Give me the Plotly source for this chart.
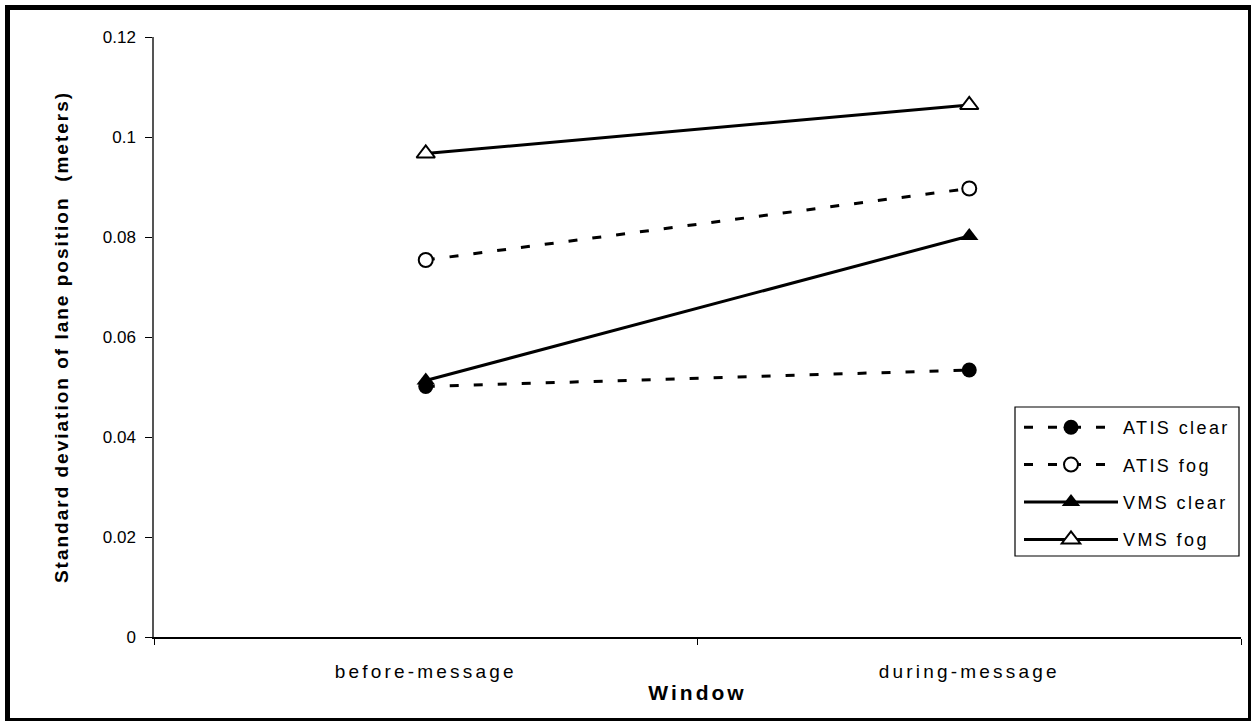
import plotly.graph_objects as go

categories = ["before-message", "during-message"]
atis_clear = [0.0501, 0.0534]
atis_fog = [0.0754, 0.0897]
vms_clear = [0.0513, 0.0802]
vms_fog = [0.0967, 0.1064]
y_ticks = [0, 0.02, 0.04, 0.06, 0.08, 0.1, 0.12]

W, H = 1251, 721
ML, MR, MT, MB = 154, 10, 37, 84
PW, PH = W - ML - MR, H - MT - MB

def px(x):
    return (x - ML) / PW

def py(y):
    return (H - MB - y) / PH

fig = go.Figure()
dash = "9px,15px"
fig.add_trace(go.Scatter(x=categories, y=atis_clear, name="ATIS clear", mode="lines+markers",
                         line=dict(color="black", width=3, dash=dash),
                         marker=dict(symbol="circle", size=15, color="black"),
                         legendgroup="a"))
fig.add_trace(go.Scatter(x=categories, y=atis_fog, name="ATIS fog", mode="lines+markers",
                         line=dict(color="black", width=3, dash=dash),
                         marker=dict(symbol="circle", size=14, color="white",
                                     line=dict(color="black", width=2)),
                         legendgroup="b"))
fig.add_trace(go.Scatter(x=categories, y=vms_clear, name="VMS clear", mode="lines+markers",
                         line=dict(color="black", width=3),
                         marker=dict(symbol="triangle-up", size=16, color="black"),
                         legendgroup="c"))
fig.add_trace(go.Scatter(x=categories, y=vms_fog, name="VMS fog", mode="lines+markers",
                         line=dict(color="black", width=3),
                         marker=dict(symbol="triangle-up", size=16, color="white",
                                     line=dict(color="black", width=2)),
                         legendgroup="d"))

font = "Liberation Sans, Arial, sans-serif"
fig.update_layout(
    width=W, height=H,
    margin=dict(l=ML, r=MR, t=MT, b=MB),
    paper_bgcolor="white", plot_bgcolor="white",
    font=dict(family=font, color="black", size=16),
    showlegend=True,
    legend=dict(x=px(1019), y=py(409), xanchor="left", yanchor="top",
                bgcolor="rgba(0,0,0,0)", borderwidth=0,
                font=dict(size=18), itemwidth=94, tracegroupgap=11,
                traceorder="grouped"),
    xaxis=dict(type="category", categoryorder="array", categoryarray=categories,
               range=[-0.5, 1.5], tickson="boundaries", ticks="outside", ticklen=6,
               tickcolor="black", showline=True, linecolor="black", linewidth=1.5,
               showgrid=False, zeroline=False, tickfont=dict(size=19),
               ticklabelstandoff=16,
               title=dict(text="Window", font=dict(size=21, weight="bold"), standoff=5)),
    yaxis=dict(range=[0, 0.12], tickvals=y_ticks, ticks="outside", ticklen=7,
               tickcolor="black", showline=True, linecolor="#555555", linewidth=1.5,
               showgrid=False, zeroline=False, tickfont=dict(size=17),
               ticklabelstandoff=6,
               title=dict(text="Standard deviation of lane position  (meters)",
                          font=dict(size=19, weight="bold"), standoff=29)),
    shapes=[
        # legend frame
        dict(type="rect", xref="paper", yref="paper",
             x0=px(1015), x1=px(1239), y0=py(556), y1=py(407),
             line=dict(color="black", width=1.2), fillcolor="white", layer="below"),
        # outer frame
        dict(type="line", xref="paper", yref="paper", x0=px(7.5), x1=px(7.5),
             y0=py(H), y1=py(5), line=dict(color="black", width=5)),
        dict(type="line", xref="paper", yref="paper", x0=px(5), x1=px(W),
             y0=py(7.5), y1=py(7.5), line=dict(color="black", width=5)),
        dict(type="line", xref="paper", yref="paper", x0=px(W - 1.5), x1=px(W - 1.5),
             y0=py(H), y1=py(5), line=dict(color="black", width=3)),
        dict(type="line", xref="paper", yref="paper", x0=px(5), x1=px(W),
             y0=py(H - 1.5), y1=py(H - 1.5), line=dict(color="black", width=3)),
    ],
)

post = """
var s = document.createElement('style');
s.innerHTML = 'body{margin:0 !important;}' +
  '.xtick text{letter-spacing:3.2px;}' +
  'text.xtitle{letter-spacing:3px;}' +
  'text.ytitle{letter-spacing:2px;}' +
  'text.legendtext{letter-spacing:2.4px;}' +
  '.legend .scrollbox, .legend g{clip-path:none !important;}';
document.head.appendChild(s);
"""

fig.write_html("out.html", post_script=post, config={"displayModeBar": False})
